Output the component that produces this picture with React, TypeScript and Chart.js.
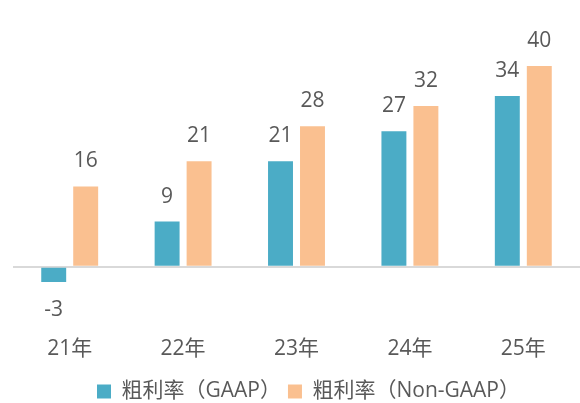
import React, { useEffect, useRef } from "react";
import { Chart, registerables } from "chart.js";

Chart.register(...registerables);

const categories = ["21年", "22年", "23年", "24年", "25年"];
const gaapValues = [-3, 9, 21, 27, 34];
const nonGaapValues = [16, 21, 28, 32, 40];
const seriesNames = ["粗利率（GAAP）", "粗利率（Non-GAAP）"];

const TEXT = "#595959";
const FONT = "'Open Sans', 'Noto Sans CJK SC', sans-serif";

const labelPlugin = {
  id: "barLabels",
  afterDatasetsDraw(chart: any) {
    const ctx = chart.ctx;
    ctx.save();
    ctx.fillStyle = TEXT;
    ctx.font = `21px ${FONT}`;
    ctx.textAlign = "center";
    ctx.textBaseline = "middle";
    chart.data.datasets.forEach((ds: any, i: number) => {
      const meta = chart.getDatasetMeta(i);
      meta.data.forEach((el: any, j: number) => {
        const v = ds.data[j];
        const y = v >= 0 ? el.y - 25 : el.y + 28;
        ctx.fillText(String(v), el.x, y);
      });
    });
    ctx.restore();
  },
};

const legendShift = {
  id: "legendShift",
  afterLayout(chart: any) {
    const l = chart.legend;
    if (l) {
      l.left += 12;
      l.right += 12;
      l.top += 4;
      l.bottom += 4;
    }
  },
};

export default function App() {
  const ref = useRef<HTMLCanvasElement>(null);
  useEffect(() => {
    const chart = new Chart(ref.current!, {
      type: "bar",
      data: {
        labels: categories,
        datasets: [
          {
            label: seriesNames[0],
            data: gaapValues,
            backgroundColor: "#4BACC6",
            categoryPercentage: 0.564,
            barPercentage: 0.78,
          },
          {
            label: seriesNames[1],
            data: nonGaapValues,
            backgroundColor: "#FAC090",
            categoryPercentage: 0.564,
            barPercentage: 0.78,
          },
        ],
      },
      options: {
        responsive: false,
        animation: false,
        layout: { padding: { left: 13, right: 0, top: 0, bottom: -5 } },
        plugins: {
          legend: {
            position: "bottom",
            labels: {
              boxWidth: 14,
              boxHeight: 14,
              color: TEXT,
              font: { family: FONT, size: 21 },
              padding: 7,
            },
          },
          tooltip: { enabled: false },
        },
        scales: {
          x: {
            grid: { display: false },
            border: { display: false },
            ticks: { color: TEXT, font: { family: FONT, size: 21 }, padding: 8 },
          },
          y: {
            min: -10.75,
            max: 53.13,
            afterFit(axis: any) {
              axis.width = 0;
            },
            border: { display: false },
            ticks: { display: false, stepSize: 1 },
            grid: {
              color: (c: any) => (c.tick && c.tick.value === 0 ? "#D9D9D9" : "rgba(0,0,0,0)"),
              lineWidth: 2,
              drawTicks: false,
            },
          },
        },
      },
      plugins: [labelPlugin, legendShift],
    });
    return () => chart.destroy();
  }, []);
  return (
    <div style={{ position: "fixed", left: 0, top: 0, width: 580, height: 403, background: "#fff" }}>
      <canvas ref={ref} width={580} height={403} />
    </div>
  );
}
